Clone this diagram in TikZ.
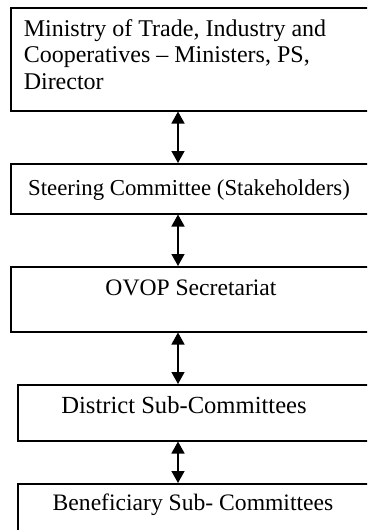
\documentclass[tikz,border=0pt]{standalone}
\usepackage{fontspec}
\setmainfont{Liberation Serif}
\usetikzlibrary{arrows.meta}
\begin{document}
\begin{tikzpicture}[x=1pt, y=1pt, line width=1.5pt,
  box node/.style={rectangle, draw=black, anchor=north west, inner sep=0pt, minimum width=370pt},
  text node/.style={anchor=base, inner sep=0pt, font=\fontsize{24}{26.5}\selectfont},
  link/.style={{Triangle[width=13pt,length=12pt]}-{Triangle[width=13pt,length=12pt]}, line width=1.4pt}]
\useasboundingbox (0,0) rectangle (367,-530);
\clip (0,0) rectangle (367,-530);
\coordinate (axis) at (178,0);
\begin{scope}
\node[box node, minimum height=103pt] (v1) at (10,-7) {};
\node[box node, minimum height=50pt] (v2) at (10,-163) {};
\node[box node, minimum height=65pt] (v3) at (10,-266) {};
\node[box node, minimum height=56pt] (v4) at (17,-384) {};
\node[box node, minimum height=60pt] (v5) at (17,-483) {};
\end{scope}
\begin{scope}
\node[text node, anchor=north west, align=left] (t1) at (23,-18.5) {Ministry of Trade, Industry and\\Cooperatives -- Ministers, PS,\\Director};
\node[text node, font=\fontsize{22.8}{26}\selectfont] (t2) at (189,-195) {Steering Committee (Stakeholders)};
\node[text node, font=\fontsize{23.6}{26}\selectfont] (t3) at (191,-295) {OVOP Secretariat};
\node[text node, font=\fontsize{24.6}{28}\selectfont] (t4) at (184,-413) {District Sub-Committees};
\node[text node, font=\fontsize{23.6}{26}\selectfont] (t5) at (193,-510) {Beneficiary Sub- Committees};
\end{scope}
\begin{scope}
\draw[link] (v1.south -| axis) -- (v2.north -| axis);
\draw[link] (v2.south -| axis) -- (v3.north -| axis);
\draw[link] (v3.south -| axis) -- (v4.north -| axis);
\draw[link] (v4.south -| axis) -- (v5.north -| axis);
\end{scope}
\end{tikzpicture}
\end{document}
